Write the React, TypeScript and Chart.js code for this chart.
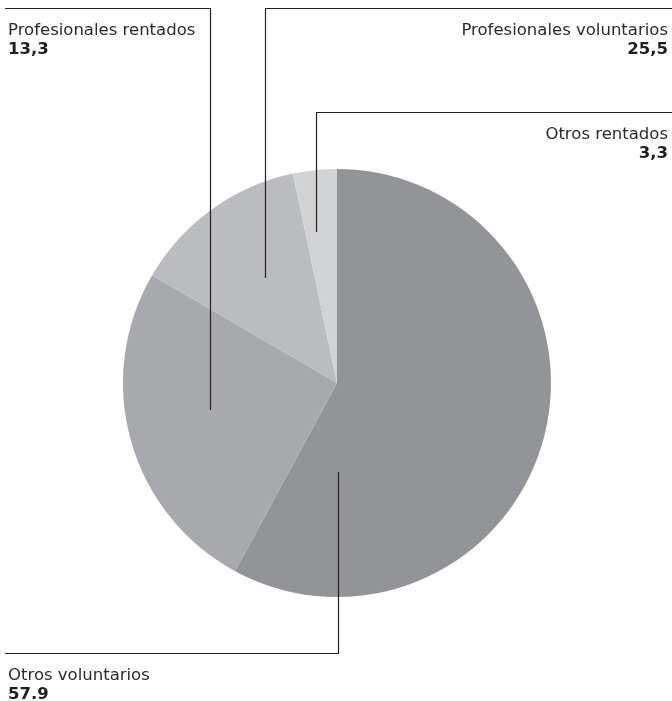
import React, { useEffect, useRef } from "react";
import { Chart, registerables } from "chart.js";

Chart.register(...registerables);

const categories = ["Otros voluntarios", "Profesionales voluntarios", "Profesionales rentados", "Otros rentados"];
const values = [57.9, 25.5, 13.3, 3.3];
const valueLabels = ["57.9", "13,3", "25,5", "3,3"];
const textLabels = ["Otros voluntarios", "Profesionales rentados", "Profesionales voluntarios", "Otros rentados"];
const colors = ["#939498", "#a8a9ac", "#bbbcbf", "#d2d3d5"];

// callout layout: anchor inside slice (fraction of radius from centre), elbow y, end side
const callouts = [
  { slice: 0, dx: 0.005, dy: 0.416, elbowY: 653, side: "left" },
  { slice: 1, dx: -0.593, dy: 0.126, elbowY: 8, side: "left" },
  { slice: 2, dx: -0.336, dy: -0.491, elbowY: 8, side: "right" },
  { slice: 3, dx: -0.098, dy: -0.706, elbowY: 112, side: "right" },
];

const FONT = "'DejaVu Sans', sans-serif";

const calloutPlugin = {
  id: "callouts",
  afterDraw(chart: any) {
    const ctx = chart.ctx;
    const meta = chart.getDatasetMeta(0);
    const arc0 = meta.data[0];
    const cx = arc0.x, cy = arc0.y, r = arc0.outerRadius;
    const W = chart.width;
    ctx.save();
    callouts.forEach((c, i) => {
      const ax = Math.round(cx + c.dx * r) + 0.5;
      const ay = cy + c.dy * r;
      const ey = c.elbowY + 0.5;
      const ex = c.side === "left" ? 5 : W;
      ctx.strokeStyle = "#222222";
      ctx.lineWidth = 1.2;
      ctx.beginPath();
      ctx.moveTo(ax, ay);
      ctx.lineTo(ax, ey);
      ctx.lineTo(ex, ey);
      ctx.stroke();
      const tx = c.side === "left" ? 8 : W - 4;
      ctx.textAlign = c.side === "left" ? "left" : "right";
      ctx.textBaseline = "alphabetic";
      ctx.fillStyle = "#2a2a2a";
      ctx.font = `16.5px ${FONT}`;
      ctx.fillText(textLabels[i], tx, c.elbowY + 27);
      ctx.font = `bold 16.5px ${FONT}`;
      ctx.fillStyle = "#1e1e1e";
      ctx.fillText(valueLabels[i], tx, c.elbowY + 46);
    });
    ctx.restore();
  },
};

export default function App() {
  const ref = useRef<HTMLCanvasElement>(null);
  useEffect(() => {
    if (!ref.current) return;
    const chart = new Chart(ref.current, {
      type: "pie",
      data: {
        labels: categories,
        datasets: [
          {
            data: values,
            backgroundColor: colors,
            borderWidth: 0,
          },
        ],
      },
      options: {
        animation: false,
        responsive: false,
        layout: { padding: { top: 169, bottom: 104, left: 123, right: 121 } },
        plugins: { legend: { display: false }, tooltip: { enabled: false } },
      },
      plugins: [calloutPlugin],
    });
    return () => chart.destroy();
  }, []);
  return (
    <div style={{ position: "fixed", left: 0, top: 0, width: 672, height: 701, background: "#fff" }}>
      <canvas ref={ref} width={672} height={701} style={{ display: "block" }} />
    </div>
  );
}
